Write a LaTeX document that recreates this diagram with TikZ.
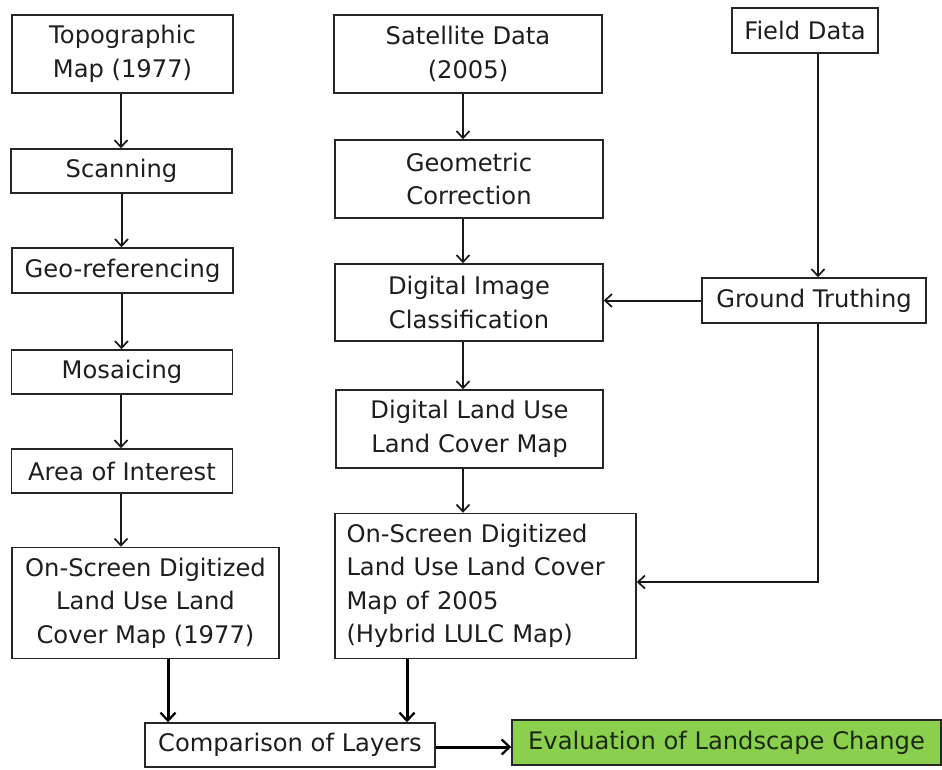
\documentclass[tikz,border=0pt]{standalone}
\usepackage{fontspec}
\setmainfont{DejaVu Sans}
\usetikzlibrary{arrows.meta}
\definecolor{txt}{RGB}{30,30,30}
\definecolor{evalgreen}{RGB}{138,208,78}
\definecolor{evaltxt}{RGB}{28,40,18}
\begin{document}
\begin{tikzpicture}[x=1pt,y=-1pt,
  box/.style={draw=black!85, line width=1.5pt, fill=white, inner sep=0pt, align=center, text=txt,
    font=\fontsize{24.2}{33.5}\selectfont},
  arr/.style={draw=black!90, line width=2pt, -{Straight Barb[length=7pt,width=13pt,line width=1.7pt]}},
  arrb/.style={draw=black, line width=3pt, -{Straight Barb[length=8pt,width=15pt,line width=2.2pt]}}]
\fill[white] (0,0) rectangle (942,769);
\useasboundingbox (0,0) rectangle (942,769);
% left column
\node[box, minimum width=221pt, minimum height=78pt] (topo) at (122.5,54) {Topographic\\Map (1977)};
\node[box, minimum width=221pt, minimum height=44pt] (scan) at (121.5,171) {Scanning};
\node[box, minimum width=221pt, minimum height=45pt] (geo) at (122.5,270.5) {Geo-referencing};
\node[box, minimum width=221pt, minimum height=44pt] (mos) at (122,372) {Mosaicing};
\node[box, minimum width=221pt, minimum height=44pt] (aoi) at (122,471) {Area of Interest};
\node[box, minimum width=267pt, minimum height=111pt] (os77) at (145.5,603) {On-Screen Digitized\\Land Use Land\\Cover Map (1977)};
% middle column
\node[box, minimum width=268pt, minimum height=78pt] (sat) at (468,54) {Satellite Data\\(2005)};
\node[box, minimum width=268pt, minimum height=78pt] (geom) at (469,179) {Geometric\\Correction};
\node[box, minimum width=268pt, minimum height=77pt] (dic) at (469,302.5) {Digital Image\\Classification};
\node[box, minimum width=267pt, minimum height=78pt] (dlulc) at (469.5,429) {Digital Land Use\\Land Cover Map};
\node[box, minimum width=301pt, minimum height=145pt, text width=278pt, align=left] (hyb) at (485.5,586) {On-Screen Digitized\\Land Use Land Cover\\Map of 2005\\(Hybrid LULC Map)};
% right column
\node[box, minimum width=146pt, minimum height=45pt] (field) at (805,30.5) {Field Data};
\node[box, minimum width=224pt, minimum height=45pt] (gt) at (814,300.5) {Ground Truthing};
% bottom
\node[box, minimum width=290pt, minimum height=44pt] (comp) at (290,745) {Comparison of Layers};
\node[box, fill=evalgreen, text=evaltxt, minimum width=429pt, minimum height=45pt] (eval) at (726.5,742.5) {Evaluation of Landscape Change};
% connectors left
\draw[arr] ([xshift=-1.5pt]topo.south) -- ([xshift=-1.5pt]topo.south |- scan.north);
\draw[arr] (scan.south) -- (scan.south |- geo.north);
\draw[arr] ([xshift=-1pt]geo.south) -- ([xshift=-1pt]geo.south |- mos.north);
\draw[arr] ([xshift=-1pt]mos.south) -- ([xshift=-1pt]mos.south |- aoi.north);
\draw[arr] ([xshift=-1pt]aoi.south) -- ([xshift=-1pt]aoi.south |- os77.north);
% connectors middle
\draw[arr] ([xshift=-5pt]sat.south) -- ([xshift=-5pt]sat.south |- geom.north);
\draw[arr] ([xshift=-6pt]geom.south) -- ([xshift=-6pt]geom.south |- dic.north);
\draw[arr] ([xshift=-6pt]dic.south) -- ([xshift=-6pt]dic.south |- dlulc.north);
\draw[arr] ([xshift=-6.5pt]dlulc.south) -- ([xshift=-6.5pt]dlulc.south |- hyb.north);
% right connectors
\draw[arr] ([xshift=4pt]gt.north |- field.south) -- ([xshift=4pt]gt.north);
\draw[arr] (gt.west) -- (gt.west -| dic.east);
\draw[arr] ([xshift=4pt]gt.south) |- ([yshift=4pt]hyb.east);
% bottom connectors
\draw[arrb] ([xshift=22.5pt]os77.south) -- ([xshift=22.5pt]os77.south |- comp.north);
\draw[arrb] ([xshift=-78.5pt]hyb.south) -- ([xshift=-78.5pt]hyb.south |- comp.north);
\draw[arrb] ([yshift=-2pt]comp.east) -- ([yshift=-2pt]comp.east -| eval.west);
\end{tikzpicture}
\end{document}
